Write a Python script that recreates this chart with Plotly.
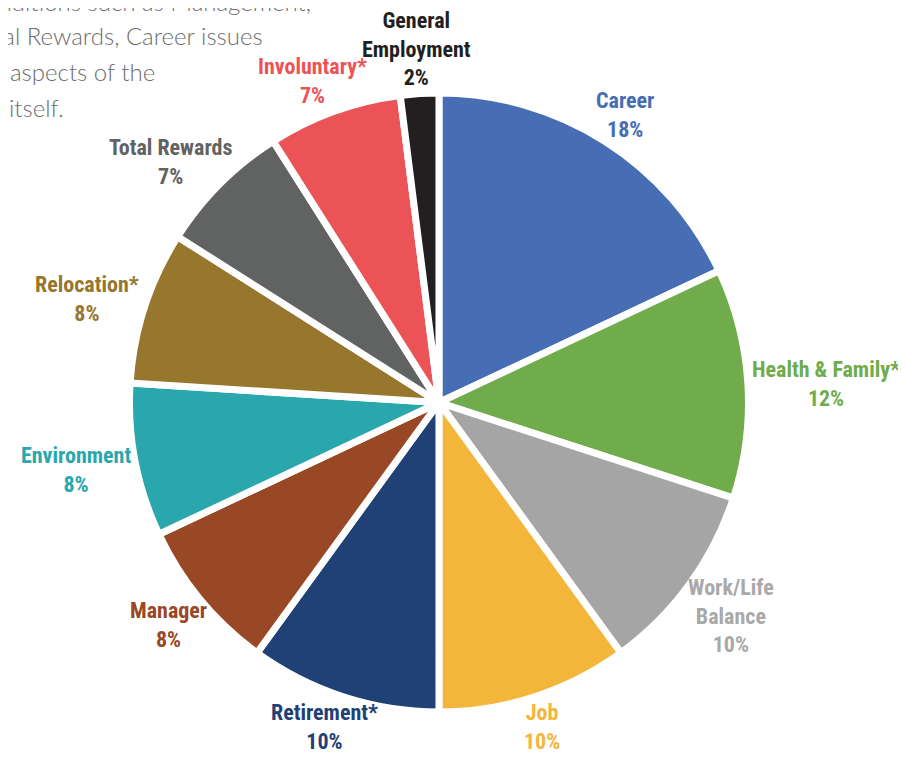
import math
import plotly.graph_objects as go

# slices, clockwise from 12 o'clock
labels = ['Career', 'Health & Family*', 'Work/Life Balance', 'Job', 'Retirement*',
          'Manager', 'Environment', 'Relocation*', 'Total Rewards', 'Involuntary*',
          'General Employment']
label_text = ['Career', 'Health & Family*', 'Work/Life<br>Balance', 'Job', 'Retirement*',
              'Manager', 'Environment', 'Relocation*', 'Total Rewards', 'Involuntary*',
              'General<br>Employment']
shares = [18, 12, 10, 10, 10, 8, 8, 8, 7, 7, 2]

slice_colors = ['#476db5', '#70ac4b', '#a5a5a5', '#f4b53b', '#1f4176', '#994826',
                '#2aa7ad', '#97762e', '#616262', '#ec5356', '#231f20']
text_colors = ['#476db5', '#70ac4b', '#a9a9a9', '#f4b53b', '#1f4176', '#994826',
               '#2aa7ad', '#97762e', '#616262', '#ec5356', '#231f20']

# clipped paragraph in the top-left corner
para_lines = ['conditions such as Management,', 'Total Rewards, Career issues',
              'aspects of the', 'itself.']

W, H = 906, 757
OFF = 8  # page body margin
dom_x = [0.1341, 0.8173]
dom_y = [0.0700, 0.8877]
line_w = 7

fig = go.Figure()

fig.add_trace(go.Pie(
    labels=labels,
    values=shares,
    textinfo='none',
    sort=False,
    direction='clockwise',
    rotation=0,
    marker=dict(colors=slice_colors, line=dict(color='white', width=line_w)),
    domain=dict(x=dom_x, y=dom_y),
    showlegend=False,
    hoverinfo='label+percent',
))

# outside labels, placed along each slice's mid angle
cx = W * sum(dom_x) / 2
cy = H * sum(dom_y) / 2
r_out = min(W * (dom_x[1] - dom_x[0]), H * (dom_y[1] - dom_y[0])) / 2 - line_w / 2
gap = 12
fsize = 22
total = sum(shares)
cum = 0
for txt, v, col in zip(label_text, shares, text_colors):
    theta = math.radians(360 * (cum + v / 2) / total)
    cum += v
    ux, uy = math.sin(theta), math.cos(theta)
    lines = txt.split('<br>') + ['x']
    w = max(len(s) for s in lines) * 0.43 * fsize
    h = len(lines) * 1.2 * fsize
    px = cx + (r_out + gap) * ux + w / 2 * ux
    py = cy + (r_out + gap) * uy + h / 2 * uy - 3
    # keep labels inside the visible page
    px = min(px, W - OFF - 4 - w / 2)
    py = max(py, OFF + 1 + len(lines) * 1.3 * fsize / 2)
    fig.add_annotation(
        text=f'{txt}<br>{v}%', xref='paper', yref='paper',
        x=px / W, y=py / H, xanchor='center', yanchor='middle',
        showarrow=False, align='center',
        font=dict(family='Roboto Condensed, Roboto, sans-serif', size=fsize,
                  color=col, weight='bold'),
    )

# paragraph text, cut off at the left edge
para_right = [313, 265, 157, 66]
para_mid = [1, 36, 72, 108]
for line, xr, ym in zip(para_lines, para_right, para_mid):
    fig.add_annotation(
        text=line, xref='paper', yref='paper',
        x=(xr - OFF) / W, y=1 - (ym - OFF) / H, xanchor='right', yanchor='middle',
        showarrow=False,
        font=dict(family='Lato, Open Sans, sans-serif', size=24, color='#6d6d6d', weight=300),
    )

fig.update_layout(
    width=W, height=H,
    margin=dict(l=0, r=0, t=0, b=0),
    paper_bgcolor='white',
    plot_bgcolor='white',
)

fig.write_html('out.html')
